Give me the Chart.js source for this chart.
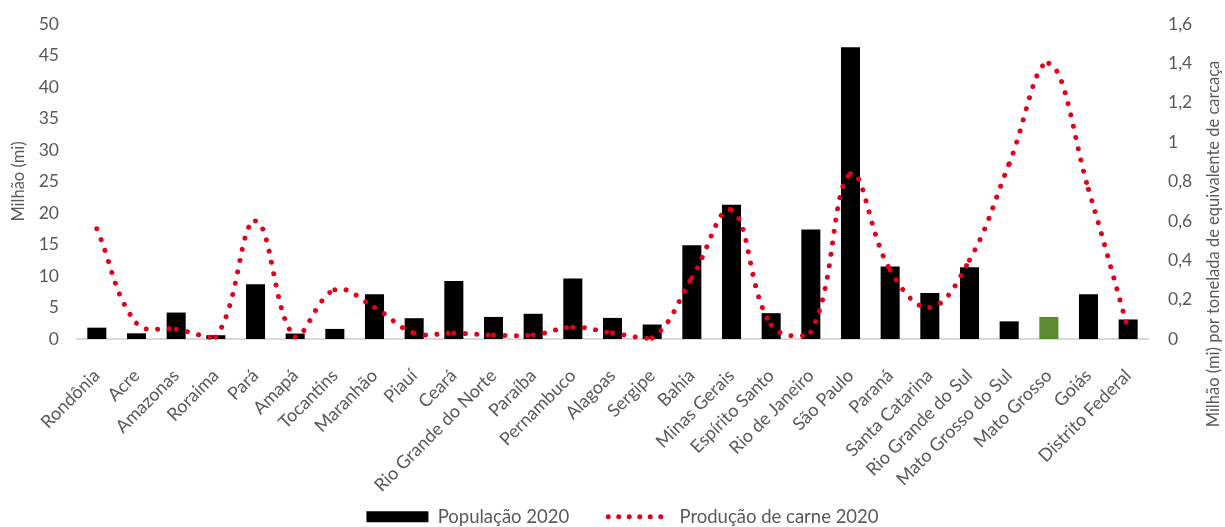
<!DOCTYPE html>
<html>
<head>
<meta charset="utf-8">
<script src="https://cdn.jsdelivr.net/npm/chart.js@4/dist/chart.umd.min.js"></script>
<style>
html,body{margin:0;padding:0;background:#fff;}
#wrap{width:1225px;height:527px;position:relative;}
</style>
</head>
<body>
<div id="wrap"><canvas id="c" width="1225" height="527"></canvas></div>
<script>
const categories = ["Rondônia","Acre","Amazonas","Roraima","Pará","Amapá","Tocantins","Maranhão","Piauí","Ceará","Rio Grande do Norte","Paraíba","Pernambuco","Alagoas","Sergipe","Bahia","Minas Gerais","Espírito Santo","Rio de Janeiro","São Paulo","Paraná","Santa Catarina","Rio Grande do Sul","Mato Grosso do Sul","Mato Grosso","Goiás","Distrito Federal"];
const populacao2020 = [1.8,0.9,4.2,0.6,8.7,0.86,1.6,7.1,3.3,9.2,3.5,4.0,9.6,3.35,2.3,14.9,21.3,4.1,17.4,46.3,11.5,7.3,11.4,2.8,3.5,7.1,3.1];
const producaoCarne2020 = [0.56,0.08,0.05,0.01,0.6,0.01,0.25,0.16,0.03,0.03,0.02,0.02,0.06,0.03,0.005,0.31,0.655,0.07,0.035,0.84,0.35,0.16,0.4,0.89,1.40,0.76,0.05];
const leftTicks = [0,5,10,15,20,25,30,35,40,45,50];
const rightTicks = [0,0.2,0.4,0.6,0.8,1,1.2,1.4,1.6];
const seriesNames = ["População 2020","Produção de carne 2020"];
const leftTitle = "Milhão (mi)";
const rightTitle = "Milhão (mi) por tonelada de equivalente de carcaça";

const FONT = "Lato";
const TXT = "#595959";
const barColors = categories.map(c => c === "Mato Grosso" ? "#5a8b32" : "#000000");
const RED = "#e2001a";
const BPAD = -9;
const RPAD = -20;
const AXIS_BOTTOM = 339;

const rightTitlePlugin = {
  id: 'rightTitle',
  afterDraw(chart) {
    const ctx = chart.ctx;
    ctx.save();
    ctx.fillStyle = TXT;
    ctx.font = "16.5px " + FONT;
    ctx.textAlign = "center";
    ctx.textBaseline = "middle";
    ctx.translate(1214, 244);
    ctx.rotate(-Math.PI/2);
    ctx.fillText(rightTitle, 0, 0);
    ctx.restore();
  }
};

new Chart(document.getElementById('c'), {
  data: {
    labels: categories,
    datasets: [
      {
        type: 'line',
        label: seriesNames[1],
        data: producaoCarne2020,
        yAxisID: 'y1',
        borderColor: RED,
        backgroundColor: RED,
        borderWidth: 5,
        borderDash: [0.01, 11.5],
        borderCapStyle: 'round',
        pointRadius: 0,
        tension: 0.4,
        clip: false,
        order: 0,
        segment: {
          borderDashOffset: c => (c.p0DataIndex % 2 ? 0 : 0.0001)
        }
      },
      {
        type: 'bar',
        label: seriesNames[0],
        data: populacao2020,
        yAxisID: 'y',
        backgroundColor: barColors,
        categoryPercentage: 1,
        barPercentage: 0.48,
        order: 1
      }
    ]
  },
  options: {
    responsive: false,
    animation: false,
    devicePixelRatio: 1,
    layout: { padding: { top: 24, left: 0, right: RPAD, bottom: BPAD } },
    plugins: {
      tooltip: { enabled: false },
      legend: {
        position: 'bottom',
        labels: {
          font: { family: FONT, size: 18.5 },
          color: TXT,
          usePointStyle: true,
          pointStyleWidth: 62,
          boxHeight: 11,
          padding: 39,
          generateLabels(chart) {
            return [
              { text: seriesNames[0], pointStyle: 'rect', fillStyle: '#000', strokeStyle: '#000', lineWidth: 0, datasetIndex: 1, fontColor: TXT },
              { text: seriesNames[1], pointStyle: 'line', fillStyle: RED, strokeStyle: RED, lineWidth: 5, lineDash: [0.01, 10.5], lineCap: 'round', datasetIndex: 0, fontColor: TXT }
            ];
          }
        }
      }
    },
    scales: {
      x: {
        grid: { display: false, drawTicks: false },
        border: { color: '#d9d9d9', width: 2 },
        ticks: { color: TXT, font: { family: FONT, size: 18 }, minRotation: 45, maxRotation: 45, autoSkip: false, padding: 26 },
        afterFit(s) {
          const lg = s.chart.legend;
          s.height = (527 - BPAD) - (lg ? lg.height : 0) - AXIS_BOTTOM;
          s._computeLabelArea = () => undefined;
        }
      },
      y: {
        position: 'left',
        min: 0, max: 50,
        grid: { display: false, drawTicks: false },
        border: { display: false },
        afterBuildTicks(s) { s.ticks = leftTicks.map(v => ({ value: v })); },
        ticks: { color: TXT, font: { family: FONT, size: 17.5 }, padding: 18 },
        title: { display: true, text: leftTitle, color: TXT, font: { family: FONT, size: 16.5 }, padding: { top: 9, bottom: 0 } },
        afterFit(s) { s.width = 77; s.paddingTop = 0; s.paddingBottom = 0; }
      },
      y1: {
        position: 'right',
        min: 0, max: 1.6,
        grid: { display: false, drawTicks: false },
        border: { display: false },
        afterBuildTicks(s) { s.ticks = rightTicks.map(v => ({ value: v })); },
        ticks: { color: TXT, font: { family: FONT, size: 17.5 }, padding: 20, callback: v => String(Math.round(v*10)/10).replace('.', ',') },
        afterFit(s) { s.width = 77 - RPAD; s.paddingTop = 0; s.paddingBottom = 0; }
      }
    }
  },
  plugins: [rightTitlePlugin]
});
</script>
</body>
</html>
